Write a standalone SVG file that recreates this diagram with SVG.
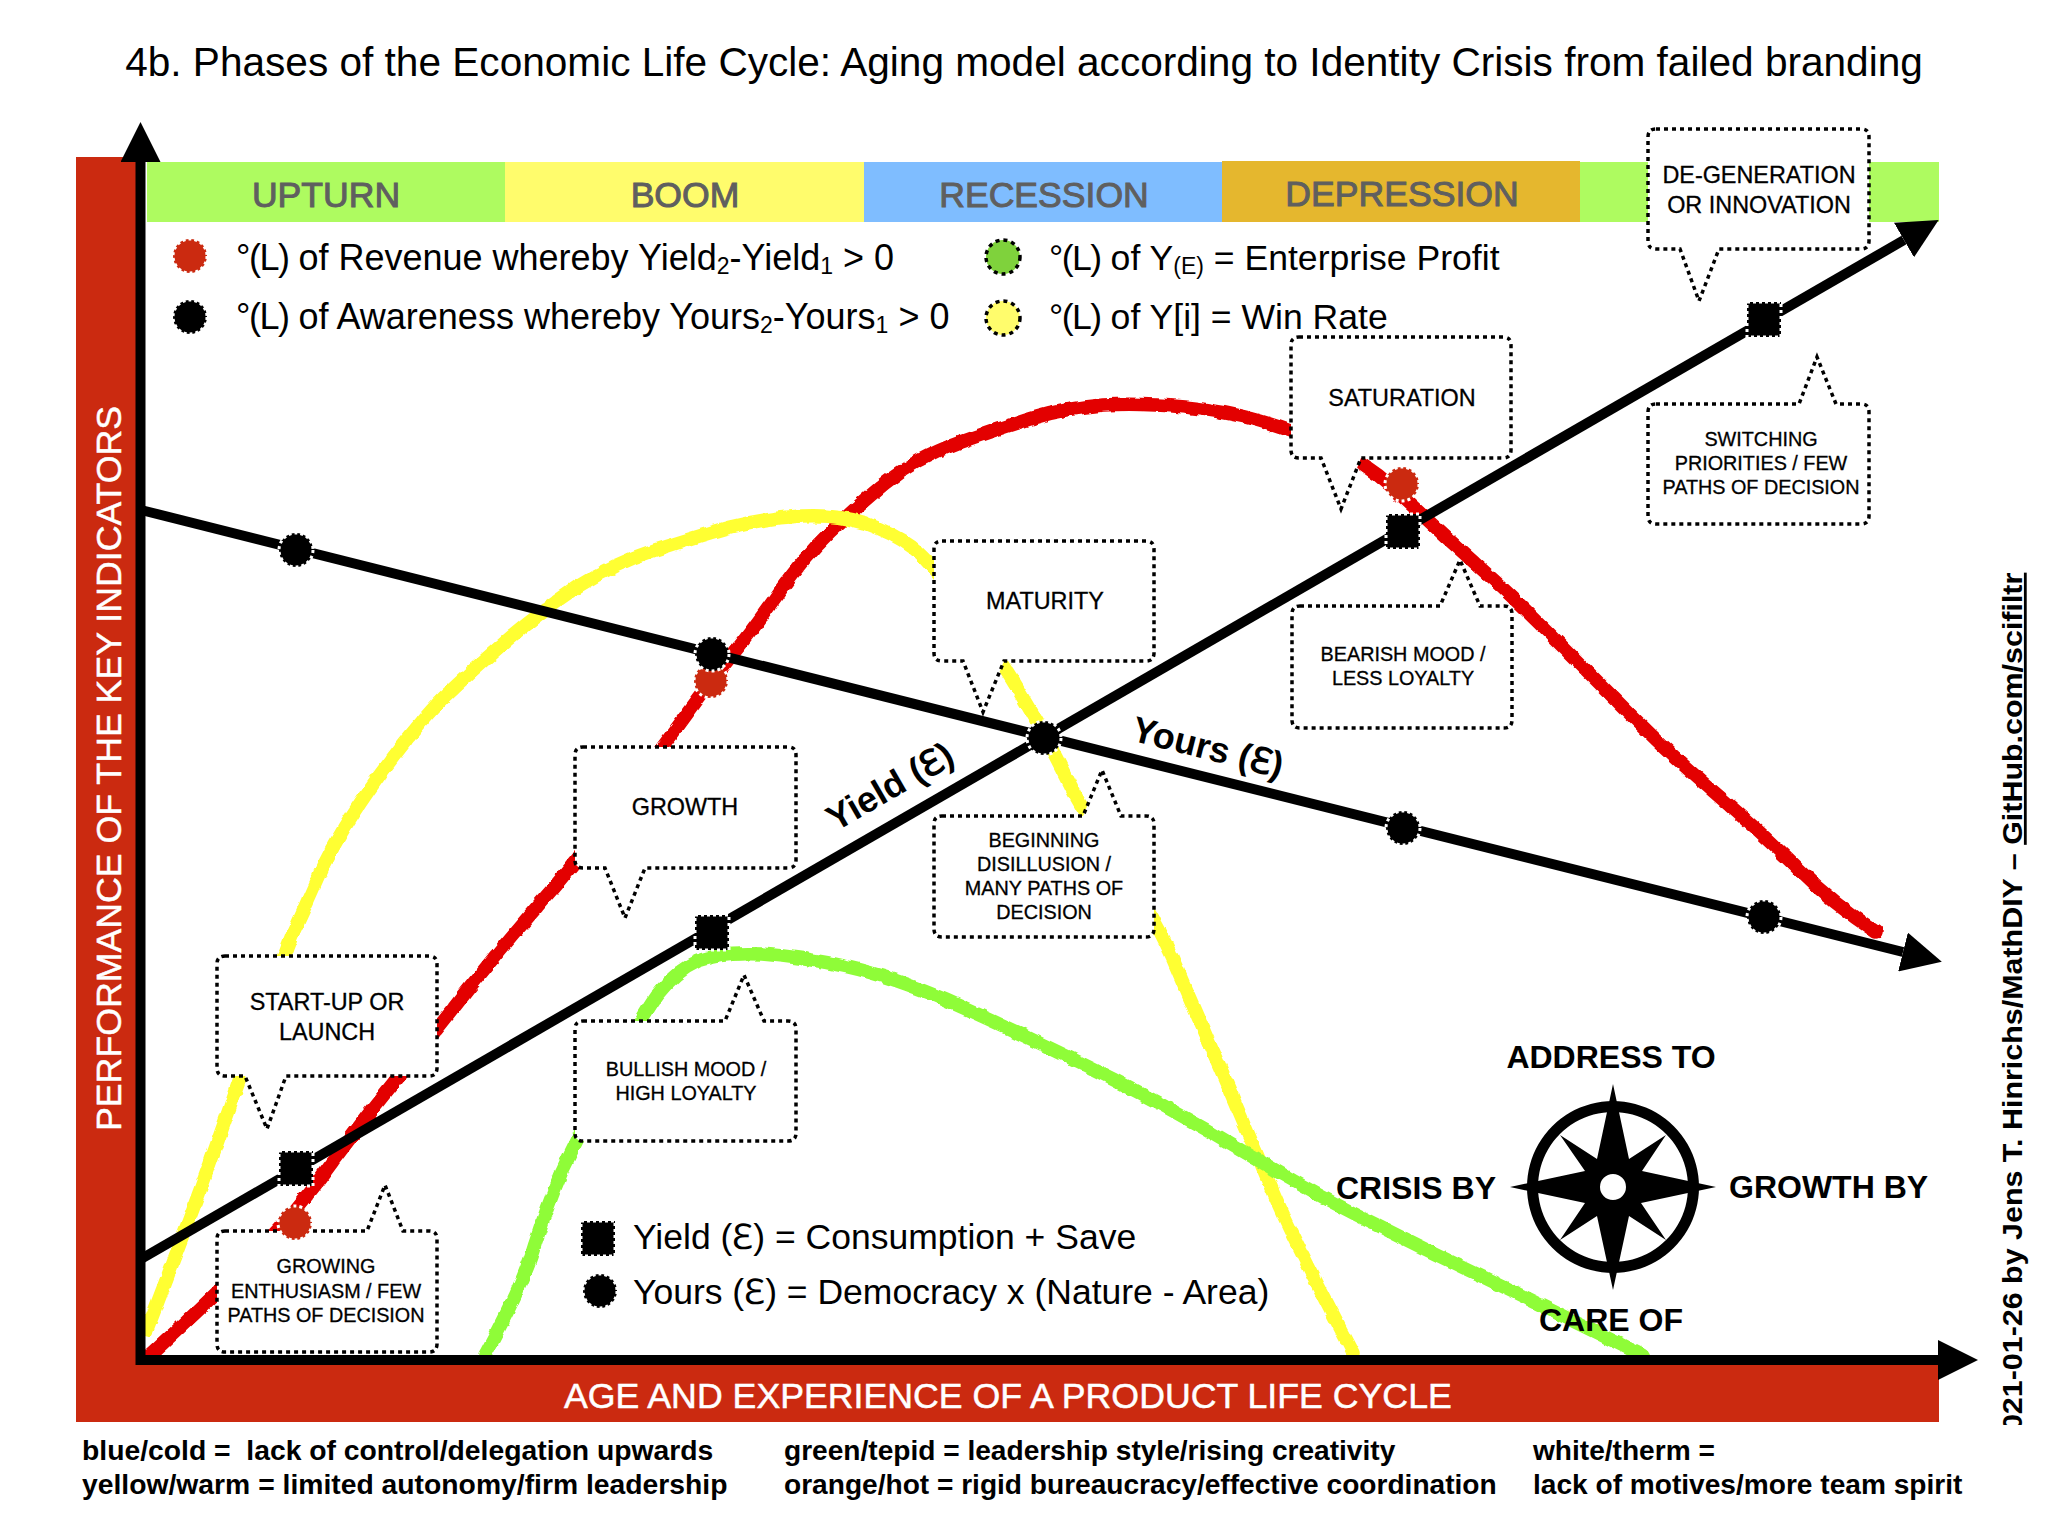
<svg xmlns="http://www.w3.org/2000/svg" width="2048" height="1536" viewBox="0 0 2048 1536">
<style>
text{font-family:"Liberation Sans",Arial,sans-serif;fill:#000}
.band{font-size:35.6px;fill:#5f5f5f;stroke:#5f5f5f;stroke-width:1px;text-anchor:middle}
.leg{font-size:35.5px}
.legl{font-size:36px}
.legr{font-size:35.6px}
.sub{font-size:23px}
.deg{letter-spacing:-1.5px}
.ax{font-size:35.7px;fill:#fff;stroke:#fff;stroke-width:.5px}
.foot{font-size:28.1px;font-weight:bold}
.c1{font-size:23.4px;text-anchor:middle;stroke:#000;stroke-width:.3px}
.c2{font-size:19.8px;text-anchor:middle;stroke:#000;stroke-width:.3px}
.comp{font-size:32px;font-weight:bold}
.line{fill:none;stroke:#000;stroke-width:10;marker-end:url(#arrow)}
.curve{fill:none;stroke-width:13.5;stroke-linejoin:round;stroke-linecap:round;filter:url(#rough)}
.call{fill:#fff;stroke:#000;stroke-width:3.5;stroke-dasharray:4 4}
.nd{stroke:#fff;stroke-width:3;stroke-dasharray:3 3}
.ld{stroke:#000;stroke-width:3.5;stroke-dasharray:4 4}
</style>
<defs>
<marker id="arrow" markerUnits="userSpaceOnUse" markerWidth="40" markerHeight="40" viewBox="0 0 40 40" refX="0" refY="20" orient="auto"><path d="M0,0L40,20L0,40Z" fill="#000"/></marker>
<filter id="rough" filterUnits="userSpaceOnUse" x="0" y="0" width="2048" height="1536"><feTurbulence type="fractalNoise" baseFrequency="0.09" numOctaves="2" seed="4"/><feDisplacementMap in="SourceGraphic" scale="5" xChannelSelector="R" yChannelSelector="G"/></filter>
<clipPath id="sideclip"><rect x="1980" y="500" width="68" height="925"/></clipPath>
<clipPath id="plotclip"><rect x="136" y="100" width="1900" height="1258"/></clipPath>
</defs>
<rect width="2048" height="1536" fill="#fff"/>
<text id="title" x="1024" y="76" font-size="40.6" text-anchor="middle">4b. Phases of the Economic Life Cycle: Aging model according to Identity Crisis from failed branding</text>

<g id="frame">
<rect x="76" y="157" width="61" height="1265" fill="#cb2a10"/>
<rect x="76" y="1360" width="1863" height="62" fill="#cb2a10"/>
<text class="ax" transform="translate(121,1131) rotate(-90)">PERFORMANCE OF THE KEY INDICATORS</text>
<text class="ax" x="564" y="1408">AGE AND EXPERIENCE OF A PRODUCT LIFE CYCLE</text>
</g>

<g id="phase-upturn"><rect x="147" y="162" width="358" height="60" fill="#aefb60"/><text class="band" x="326" y="207">UPTURN</text></g>
<g id="phase-boom"><rect x="505" y="162" width="359" height="60" fill="#fffc6c"/><text class="band" x="685" y="207">BOOM</text></g>
<g id="phase-recession"><rect x="864" y="162" width="358" height="60" fill="#7fbdff"/><text class="band" x="1044" y="207">RECESSION</text></g>
<g id="phase-depression"><rect x="1222" y="161" width="358" height="61" fill="#e5b72e"/><text class="band" x="1402" y="206">DEPRESSION</text></g>
<g id="phase-upturn-2"><rect x="1580" y="162" width="359" height="60" fill="#aefb60"/></g>

<g id="legend-top">
<circle class="nd" cx="190" cy="256" r="17" fill="#cb2a10"/>
<text class="legl" x="236" y="270"><tspan class="deg">°(L)</tspan> of Revenue whereby Yield<tspan class="sub" dy="4">2</tspan><tspan dy="-4">-Yield</tspan><tspan class="sub" dy="4">1</tspan><tspan dy="-4"> &gt; 0</tspan></text>
<circle class="nd" cx="190" cy="317" r="17" fill="#000"/>
<text class="legl" x="236" y="329"><tspan class="deg">°(L)</tspan> of Awareness whereby Yours<tspan class="sub" dy="4">2</tspan><tspan dy="-4">-Yours</tspan><tspan class="sub" dy="4">1</tspan><tspan dy="-4"> &gt; 0</tspan></text>
<circle class="ld" cx="1003" cy="257" r="17" fill="#7fd23c"/>
<text class="legr" x="1049" y="270"><tspan class="deg">°(L)</tspan> of Y<tspan class="sub" dy="4">(E)</tspan><tspan dy="-4"> = Enterprise Profit</tspan></text>
<circle class="ld" cx="1003" cy="318" r="17" fill="#fffc6c"/>
<text class="legr" x="1049" y="329"><tspan class="deg">°(L)</tspan> of Y[i] = Win Rate</text>
</g>

<g id="connectors">
<g clip-path="url(#plotclip)">
<path id="curve-revenue" class="curve" stroke="#e30000" d="M147,1358Q214,1297 257,1252Q300,1208 333,1161Q367,1115 402,1072Q437,1030 467,991Q497,953 536,908Q576,863 619,805Q663,747 687,714Q711,681 733,654Q755,627 780,591Q805,556 829,533Q853,510 884,484Q916,458 958,443Q1000,428 1033,418Q1067,408 1103,405Q1140,403 1185,407Q1230,412 1260,421Q1291,430 1328,446Q1365,462 1392,487Q1420,513 1447,538Q1475,563 1496,582Q1518,602 1557,641Q1596,680 1635,719Q1675,759 1721,798Q1767,838 1799,870Q1832,903 1876,932"/>
<path id="curve-winrate" class="curve" stroke="#ffff33" d="M147,1330Q191,1216 215,1149Q239,1082 261,1018Q284,955 292,935Q301,916 320,873Q340,830 379,776Q419,722 444,697Q470,672 505,642Q540,612 577,587Q615,563 655,550Q695,537 730,527Q765,518 801,516Q837,514 865,523Q893,533 912,547Q931,562 968,614Q1005,667 1020,693Q1036,720 1046,738Q1056,757 1069,783Q1082,810 1119,865Q1157,920 1178,971Q1200,1022 1227,1084Q1254,1147 1274,1194Q1294,1241 1354,1354"/>
<path id="curve-profit" class="curve" stroke="#8ffc38" d="M485,1355Q523,1285 535,1244Q548,1204 562,1171Q577,1139 609,1078Q641,1018 658,994Q676,971 698,961Q721,952 762,954Q804,957 848,967Q893,977 946,1000Q1000,1024 1033,1040Q1067,1056 1113,1079Q1160,1103 1207,1130Q1254,1158 1294,1181Q1334,1204 1381,1227Q1428,1251 1481,1276Q1535,1302 1642,1355"/>
</g>
</g>

<g id="callout-startup"><path class="call" d="M225,956H429Q437,956 437,964V1068Q437,1076 429,1076H286L267,1129L245,1076H225Q217,1076 217,1068V964Q217,956 225,956Z"/><text class="c1" x="327" y="1010">START-UP OR</text><text class="c1" x="327" y="1040">LAUNCH</text></g>
<g id="callout-growing"><path class="call" d="M225,1231H367L385,1185L403,1231H429Q437,1231 437,1239V1344Q437,1352 429,1352H225Q217,1352 217,1344V1239Q217,1231 225,1231Z"/><text class="c2" x="326" y="1273">GROWING</text><text class="c2" x="326" y="1298">ENTHUSIASM / FEW</text><text class="c2" x="326" y="1322">PATHS OF DECISION</text></g>
<g id="callout-growth"><path class="call" d="M583,747H788Q796,747 796,755V860Q796,868 788,868H645L625,918L605,868H583Q575,868 575,860V755Q575,747 583,747Z"/><text class="c1" x="685" y="815">GROWTH</text></g>
<g id="callout-bullish"><path class="call" d="M583,1021H725L744,975L764,1021H788Q796,1021 796,1029V1133Q796,1141 788,1141H583Q575,1141 575,1133V1029Q575,1021 583,1021Z"/><text class="c2" x="686" y="1076">BULLISH MOOD /</text><text class="c2" x="686" y="1100">HIGH LOYALTY</text></g>
<g id="callout-maturity"><path class="call" d="M942,541H1146Q1154,541 1154,549V653Q1154,661 1146,661H1004L983,712L963,661H942Q934,661 934,653V549Q934,541 942,541Z"/><text class="c1" x="1045" y="609">MATURITY</text></g>
<g id="callout-beginning"><path class="call" d="M942,816H1083L1102,770L1121,816H1146Q1154,816 1154,824V929Q1154,937 1146,937H942Q934,937 934,929V824Q934,816 942,816Z"/><text class="c2" x="1044" y="847">BEGINNING</text><text class="c2" x="1044" y="871">DISILLUSION /</text><text class="c2" x="1044" y="895">MANY PATHS OF</text><text class="c2" x="1044" y="919">DECISION</text></g>
<g id="callout-saturation"><path class="call" d="M1299,337H1503Q1511,337 1511,345V450Q1511,458 1503,458H1361L1341,509L1321,458H1299Q1291,458 1291,450V345Q1291,337 1299,337Z"/><text class="c1" x="1402" y="406">SATURATION</text></g>
<g id="callout-bearish"><path class="call" d="M1300,606H1440L1460,560L1480,606H1504Q1512,606 1512,614V720Q1512,728 1504,728H1300Q1292,728 1292,720V614Q1292,606 1300,606Z"/><text class="c2" x="1403" y="661">BEARISH MOOD /</text><text class="c2" x="1403" y="685">LESS LOYALTY</text></g>
<g id="callout-degeneration"><path class="call" d="M1656,129H1861Q1869,129 1869,137V241Q1869,249 1861,249H1719L1699,301L1680,249H1656Q1648,249 1648,241V137Q1648,129 1656,129Z"/><text class="c1" x="1759" y="183">DE-GENERATION</text><text class="c1" x="1759" y="213">OR INNOVATION</text></g>
<g id="callout-switching"><path class="call" d="M1656,404H1799L1817,357L1836,404H1861Q1869,404 1869,412V516Q1869,524 1861,524H1656Q1648,524 1648,516V412Q1648,404 1656,404Z"/><text class="c2" x="1761" y="446">SWITCHING</text><text class="c2" x="1761" y="470">PRIORITIES / FEW</text><text class="c2" x="1761" y="494">PATHS OF DECISION</text></g>

<g id="axes-and-lines">
<path class="line" d="M140.5,1365V162"/>
<path class="line" d="M136,1360H1938"/>
<path class="line" d="M141,1259L1904,240"/>
<path class="line" d="M141,510L1903,952"/>
<text font-size="36" font-weight="bold" text-anchor="middle" transform="translate(896,797) rotate(-30)">Yield (ℇ)</text>
<text font-size="36" font-weight="bold" text-anchor="middle" transform="translate(1205,759) rotate(14)">Yours (ℇ)</text>
</g>

<g id="nodes">
<circle class="nd" cx="295" cy="1223" r="17" fill="#cb2a10"/>
<circle class="nd" cx="711" cy="681" r="17" fill="#cb2a10"/>
<circle class="nd" cx="1402" cy="484" r="17" fill="#cb2a10"/>
<circle class="nd" cx="296" cy="550" r="17" fill="#000"/>
<circle class="nd" cx="712" cy="654" r="17" fill="#000"/>
<circle class="nd" cx="1044" cy="738" r="17" fill="#000"/>
<circle class="nd" cx="1403" cy="828" r="17" fill="#000"/>
<circle class="nd" cx="1764" cy="917" r="17" fill="#000"/>
<rect class="nd" x="279" y="1151" width="34" height="35" fill="#000"/>
<rect class="nd" x="695" y="915" width="34" height="35" fill="#000"/>
<rect class="nd" x="1386" y="514" width="34" height="35" fill="#000"/>
<rect class="nd" x="1747" y="302" width="34" height="35" fill="#000"/>
</g>

<g id="legend-bottom">
<rect class="nd" x="581" y="1221" width="34" height="35" fill="#000"/>
<text class="leg" x="633" y="1249">Yield (ℇ) = Consumption + Save</text>
<circle class="nd" cx="600" cy="1291" r="17" fill="#000"/>
<text class="leg" x="633" y="1304">Yours (ℇ) = Democracy x (Nature - Area)</text>
</g>

<g id="compass">
<path fill-rule="evenodd" d="M1613,1101a86,86 0 1,0 0.01,0ZM1613,1112a75,75 0 1,1 -0.01,0Z"/>
<path transform="translate(1613,1187)" fill-rule="evenodd" d="M0,-103L16,-28L53,-52L29,-16L103,0L28,16L53,53L16,29L0,103L-16,29L-53,53L-28,16L-103,0L-28,-16L-53,-52L-16,-28ZM13,0a13,13 0 1,0 -26,0a13,13 0 1,0 26,0Z"/>
<text class="comp" x="1611" y="1068" text-anchor="middle">ADDRESS TO</text>
<text class="comp" x="1336" y="1199">CRISIS BY</text>
<text class="comp" x="1729" y="1198">GROWTH BY</text>
<text class="comp" x="1611" y="1331" text-anchor="middle">CARE OF</text>
</g>

<g id="footer">
<text class="foot" x="82" y="1460" xml:space="preserve" style="font-size:28.3px">blue/cold =  lack of control/delegation upwards</text>
<text class="foot" x="82" y="1494" style="font-size:28.3px">yellow/warm = limited autonomy/firm leadership</text>
<text class="foot" x="784" y="1460">green/tepid = leadership style/rising creativity</text>
<text class="foot" x="784" y="1494">orange/hot = rigid bureaucracy/effective coordination</text>
<text class="foot" x="1533" y="1460">white/therm =</text>
<text class="foot" x="1533" y="1494">lack of motives/more team spirit</text>
</g>

<g id="credit" clip-path="url(#sideclip)">
<text font-size="28" font-weight="bold" transform="translate(2022,1448) rotate(-90) scale(1.087,1)">2021-01-26 by Jens T. Hinrichs/MathDIY – <tspan text-decoration="underline">GitHub.com/scifiltr</tspan></text>
</g>
</svg>
